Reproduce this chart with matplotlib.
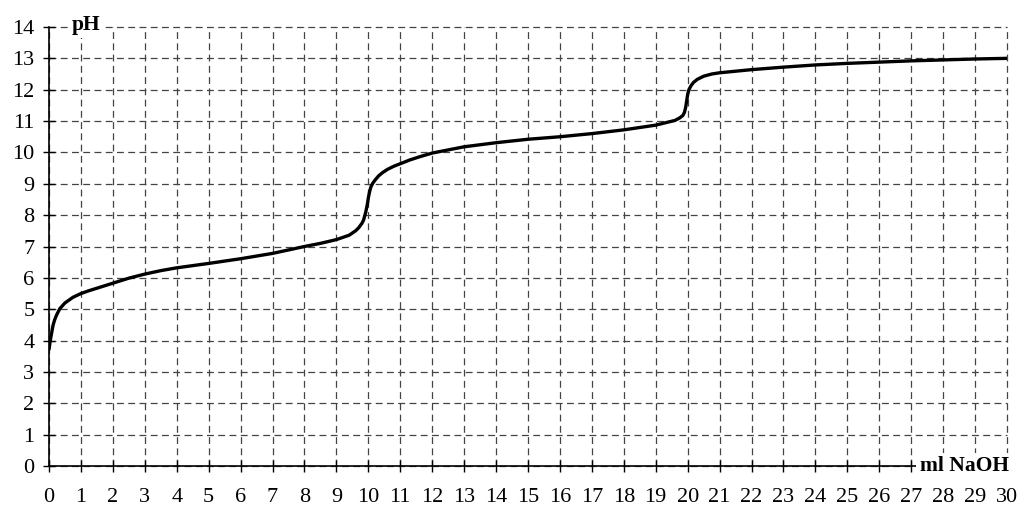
import matplotlib
matplotlib.use("Agg")
import matplotlib.pyplot as plt

plt.rcParams['font.family'] = ['Liberation Serif', 'DejaVu Serif']

# Titration curve values
ml_naoh = [0, 0.04, 0.08, 0.13, 0.18, 0.24, 0.34, 0.5, 0.75, 1.0, 1.25, 1.5, 2.0, 2.5,
           3, 3.5, 4, 5, 6, 7, 8, 8.5, 9, 9.4, 9.6, 9.7, 9.8, 9.85, 9.92, 9.97, 10.0,
           10.04, 10.08, 10.14, 10.22, 10.32, 10.45, 10.6, 10.8, 11.0, 11.3, 11.6, 12,
           13, 14, 15, 16, 17, 18, 19, 19.6, 19.75, 19.85, 19.9, 19.94, 19.97, 20.0,
           20.04, 20.1, 20.18, 20.3, 20.5, 20.75, 21, 22, 23, 24, 25, 26, 27, 28, 29, 30]
ph = [3.72, 4.0, 4.23, 4.5, 4.67, 4.82, 5.02, 5.2, 5.38, 5.5, 5.59, 5.67, 5.83, 5.99,
      6.12, 6.23, 6.32, 6.46, 6.61, 6.78, 7.0, 7.1, 7.22, 7.36, 7.5, 7.6, 7.74, 7.84,
      8.1, 8.35, 8.55, 8.75, 8.9, 9.02, 9.13, 9.25, 9.36, 9.46, 9.56, 9.64, 9.76,
      9.86, 9.98, 10.18, 10.31, 10.42, 10.5, 10.6, 10.72, 10.87, 11.02, 11.1, 11.18,
      11.28, 11.45, 11.65, 11.85, 12.0, 12.12, 12.23, 12.33, 12.43, 12.5, 12.54,
      12.64, 12.72, 12.79, 12.84, 12.88, 12.92, 12.95, 12.98, 13.0]
x_ticks = list(range(0, 31))
y_ticks = list(range(0, 15))
x_label = "ml NaOH"
y_label = "pH"

fig = plt.figure(figsize=(10.23, 5.07), dpi=100)
ax = fig.add_axes([49 / 1023, 41 / 507, 958 / 1023, 439 / 507])

ax.plot(ml_naoh, ph, color='black', lw=2.4, zorder=4, solid_capstyle='round',
        solid_joinstyle='round')

ax.set_xlim(0, 30)
ax.set_ylim(0, 14)
ax.set_xticks(x_ticks)
ax.set_yticks(y_ticks)
ax.tick_params(axis='both', direction='inout', length=9, width=1.0, color='black',
               labelsize=16)
ax.tick_params(axis='x', pad=11)
ax.tick_params(axis='y', pad=6)

ax.grid(True, color='#444444', lw=0.9, linestyle=(0, (5.5, 3.5)))
for gl in ax.get_xgridlines() + ax.get_ygridlines():
    gl.set_clip_on(False)

for s in ['top', 'right']:
    ax.spines[s].set_visible(False)
for s in ['left', 'bottom']:
    ax.spines[s].set_linewidth(1.2)
    ax.spines[s].set_color('black')

ax.text(0.72, 14.05, y_label, fontsize=15.5, fontweight='bold', ha='left', va='center',
        bbox=dict(facecolor='white', edgecolor='none', pad=1.5), zorder=5)
ax.text(30.05, 0.0, x_label, fontsize=15.5, fontweight='bold', ha='right', va='center',
        bbox=dict(facecolor='white', edgecolor='none', pad=2.5), zorder=5, clip_on=False)

fig.savefig('out.png', dpi=100)
